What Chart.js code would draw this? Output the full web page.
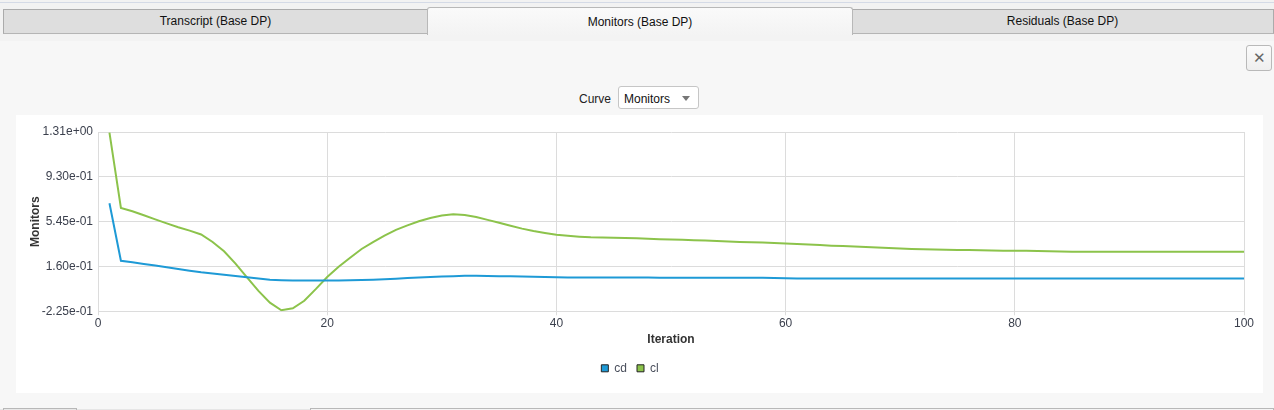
<!DOCTYPE html>
<html>
<head>
<meta charset="utf-8">
<script src="https://cdn.jsdelivr.net/npm/chart.js@4/dist/chart.umd.min.js"></script>
<style>
  html, body { margin: 0; padding: 0; }
  body { width: 1274px; height: 410px; background: #f7f7f7; position: relative; overflow: hidden;
         font-family: "Liberation Sans", Arial, sans-serif; font-size: 12px; color: #222; }
  .topbar { position: absolute; left: 0; top: 0; width: 1274px; height: 35px; background: #f2f2f2; }
  .topline { position: absolute; left: 0; top: 2px; width: 1274px; height: 1px; background: #d4dae6; }
  .tab { position: absolute; box-sizing: border-box; text-align: center; color: #111; }
  .tab.inactive { top: 9px; height: 25px; line-height: 23px; background: #dedede; border: 1px solid #ababab; border-bottom: 1px solid #b5b5b5; }
  .tab.active { top: 7px; height: 29px; line-height: 28px; background: linear-gradient(#fafafa, #f3f3f3); border: 1px solid #b8b8b8; border-bottom: none; border-radius: 3px 3px 0 0; }
  .band { position: absolute; left: 0; top: 35px; width: 1274px; height: 6px; background: #f3f3f3; }
  .close { position: absolute; left: 1246px; top: 45px; width: 26px; height: 26px; box-sizing: border-box; border: 1px solid #b9b9b9; border-radius: 3px; background: linear-gradient(#fbfbfb, #efefef); text-align: center; line-height: 24px; font-size: 15px; color: #666; }
  .curve { position: absolute; left: 579px; top: 92px; color: #222; }
  .dropdown { position: absolute; left: 618px; top: 86px; width: 81px; height: 23px; box-sizing: border-box; border: 1px solid #c6c6c6; border-radius: 3px; background: #fff; padding-left: 5px; padding-top: 2px; line-height: 21px; color: #111; }
  .dropdown .arrow { position: absolute; right: 8px; top: 9px; width: 0; height: 0; border-left: 4px solid transparent; border-right: 4px solid transparent; border-top: 5px solid #777; }
  .chartbox { position: absolute; left: 16px; top: 115px; width: 1247px; height: 278px; background: #fff; }
  .btab { position: absolute; top: 408px; height: 4px; box-sizing: border-box; border: 1px solid #b8b8b8; background: #e8e8e8; }
  .bottomline { position: absolute; left: 0; top: 409px; width: 1274px; height: 1px; background: #e6e6e6; }
</style>
</head>
<body>
<div class="topbar"></div>
<div class="topline"></div>
<div class="tab inactive" style="left:3px;width:425px;">Transcript (Base DP)</div>
<div class="tab inactive" style="left:851px;width:423px;">Residuals (Base DP)</div>
<div class="tab active" style="left:427px;width:426px;">Monitors (Base DP)</div>
<div class="band"></div>
<div class="close">&#x2715;</div>
<div class="curve">Curve</div>
<div class="dropdown">Monitors<span class="arrow"></span></div>
<div class="chartbox"><canvas id="c"></canvas></div>
<div class="bottomline"></div>
<div class="btab" style="left:3px;width:74px;"></div>
<div class="btab" style="left:310px;width:964px;background:#f4f4f4;"></div>
<script>
// ---- data ----
const iterations = [1,2,3,4,5,6,7,8,9,10,11,12,13,14,15,16,17,18,19,20,
  21,22,23,24,25,26,27,28,29,30,31,32,33,34,35,36,37,38,39,40,
  41,42,43,44,45,46,47,48,49,50,51,52,53,54,55,56,57,58,59,60,
  61,62,63,64,65,66,67,68,69,70,71,72,73,74,75,76,77,78,79,80,
  81,82,83,84,85,86,87,88,89,90,91,92,93,94,95,96,97,98,99,100];

const cdValues = [0.703,0.209,0.196,0.182,0.168,0.154,0.139,0.124,0.110,0.099,
  0.088,0.078,0.067,0.056,0.046,0.042,0.040,0.039,0.039,0.039,
  0.040,0.042,0.044,0.046,0.050,0.055,0.060,0.065,0.069,0.073,
  0.077,0.080,0.081,0.078,0.076,0.075,0.074,0.072,0.070,0.067,
  0.066,0.065,0.065,0.065,0.065,0.065,0.065,0.065,0.064,0.064,
  0.064,0.064,0.064,0.064,0.064,0.063,0.063,0.063,0.060,0.058,
  0.057,0.057,0.057,0.057,0.057,0.057,0.057,0.057,0.057,0.057,
  0.057,0.057,0.057,0.057,0.057,0.056,0.056,0.056,0.056,0.056,
  0.056,0.056,0.056,0.056,0.056,0.056,0.056,0.056,0.056,0.056,
  0.056,0.056,0.056,0.056,0.056,0.056,0.056,0.056,0.056,0.056];

const clValues = [1.310,0.663,0.634,0.600,0.565,0.530,0.497,0.468,0.435,0.370,
  0.290,0.185,0.067,-0.050,-0.151,-0.216,-0.199,-0.135,-0.035,0.070,
  0.157,0.235,0.310,0.370,0.425,0.475,0.513,0.548,0.577,0.598,
  0.608,0.602,0.585,0.560,0.535,0.510,0.485,0.465,0.448,0.433,
  0.424,0.416,0.410,0.408,0.406,0.405,0.402,0.398,0.394,0.392,
  0.389,0.386,0.383,0.379,0.375,0.371,0.368,0.365,0.362,0.358,
  0.354,0.349,0.344,0.339,0.335,0.331,0.327,0.323,0.318,0.314,
  0.311,0.308,0.305,0.303,0.302,0.301,0.300,0.298,0.296,0.295,
  0.294,0.292,0.290,0.288,0.287,0.286,0.286,0.286,0.286,0.286,
  0.286,0.286,0.286,0.286,0.286,0.286,0.286,0.286,0.286,0.286];

const seriesNames = ['cd', 'cl'];
const seriesColors = ['#1e9ad6', '#8cc34b'];
const yTickValues = [-0.225, 0.16, 0.545, 0.93, 1.315];
const yTickLabels = ['-2.25e-01', '1.60e-01', '5.45e-01', '9.30e-01', '1.31e+00'];
const xTickValues = [0, 20, 40, 60, 80, 100];
const xTickLabels = ['0', '20', '40', '60', '80', '100'];
const xTitle = 'Iteration';
const yTitle = 'Monitors';

// ---- chart ----
const FONT = "'Liberation Sans', Arial, sans-serif";
const gridColor = '#dcdcdc';
const toPoints = vals => vals.map((v, i) => ({ x: iterations[i], y: v }));

new Chart(document.getElementById('c'), {
  type: 'line',
  data: {
    datasets: [
      { label: seriesNames[0], data: toPoints(cdValues), borderColor: seriesColors[0], backgroundColor: seriesColors[0], borderWidth: 2, pointRadius: 0, tension: 0, fill: false },
      { label: seriesNames[1], data: toPoints(clValues), borderColor: seriesColors[1], backgroundColor: seriesColors[1], borderWidth: 2, pointRadius: 0, tension: 0, fill: false }
    ]
  },
  options: {
    responsive: true,
    maintainAspectRatio: false,
    animation: false,
    events: [],
    layout: { padding: { left: 0, right: 19, top: 17, bottom: 8.7 } },
    plugins: {
      tooltip: { enabled: false },
      legend: {
        position: 'bottom',
        labels: {
          boxWidth: 7, boxHeight: 7, padding: 10,
          color: '#4a4f5c',
          font: { family: FONT, size: 12 },
          generateLabels: chart => chart.data.datasets.map((ds, i) => ({
            text: ds.label, fillStyle: ds.borderColor, strokeStyle: '#222', lineWidth: 1,
            hidden: false, datasetIndex: i, fontColor: '#4a4f5c'
          }))
        }
      }
    },
    scales: {
      x: {
        type: 'linear', min: 0, max: 100,
        afterBuildTicks: s => { s.ticks = xTickValues.map(v => ({ value: v })); },
        afterFit: s => { s.height = 41; },
        ticks: { color: '#3a3f4c', font: { family: FONT, size: 12 }, padding: 1, maxRotation: 0,
                 callback: (v, i) => xTickLabels[i] },
        grid: { color: gridColor, tickLength: 4, tickColor: gridColor },
        border: { color: gridColor },
        title: { display: true, text: xTitle, color: '#333', font: { family: FONT, size: 12, weight: 'bold' }, padding: { top: 0, bottom: 5.5 } }
      },
      y: {
        type: 'linear', min: -0.225, max: 1.315,
        afterBuildTicks: s => { s.ticks = yTickValues.map(v => ({ value: v })); },
        afterFit: s => { s.width = 82; },
        ticks: { color: '#3a3f4c', font: { family: FONT, size: 12 }, padding: 5,
                 callback: (v, i) => yTickLabels[i] },
        grid: { color: gridColor, drawTicks: false },
        border: { color: gridColor },
        title: { display: true, text: yTitle, color: '#333', font: { family: FONT, size: 12, weight: 'bold' }, padding: { top: 12, bottom: 0 } }
      }
    }
  }
});
</script>
</body>
</html>
